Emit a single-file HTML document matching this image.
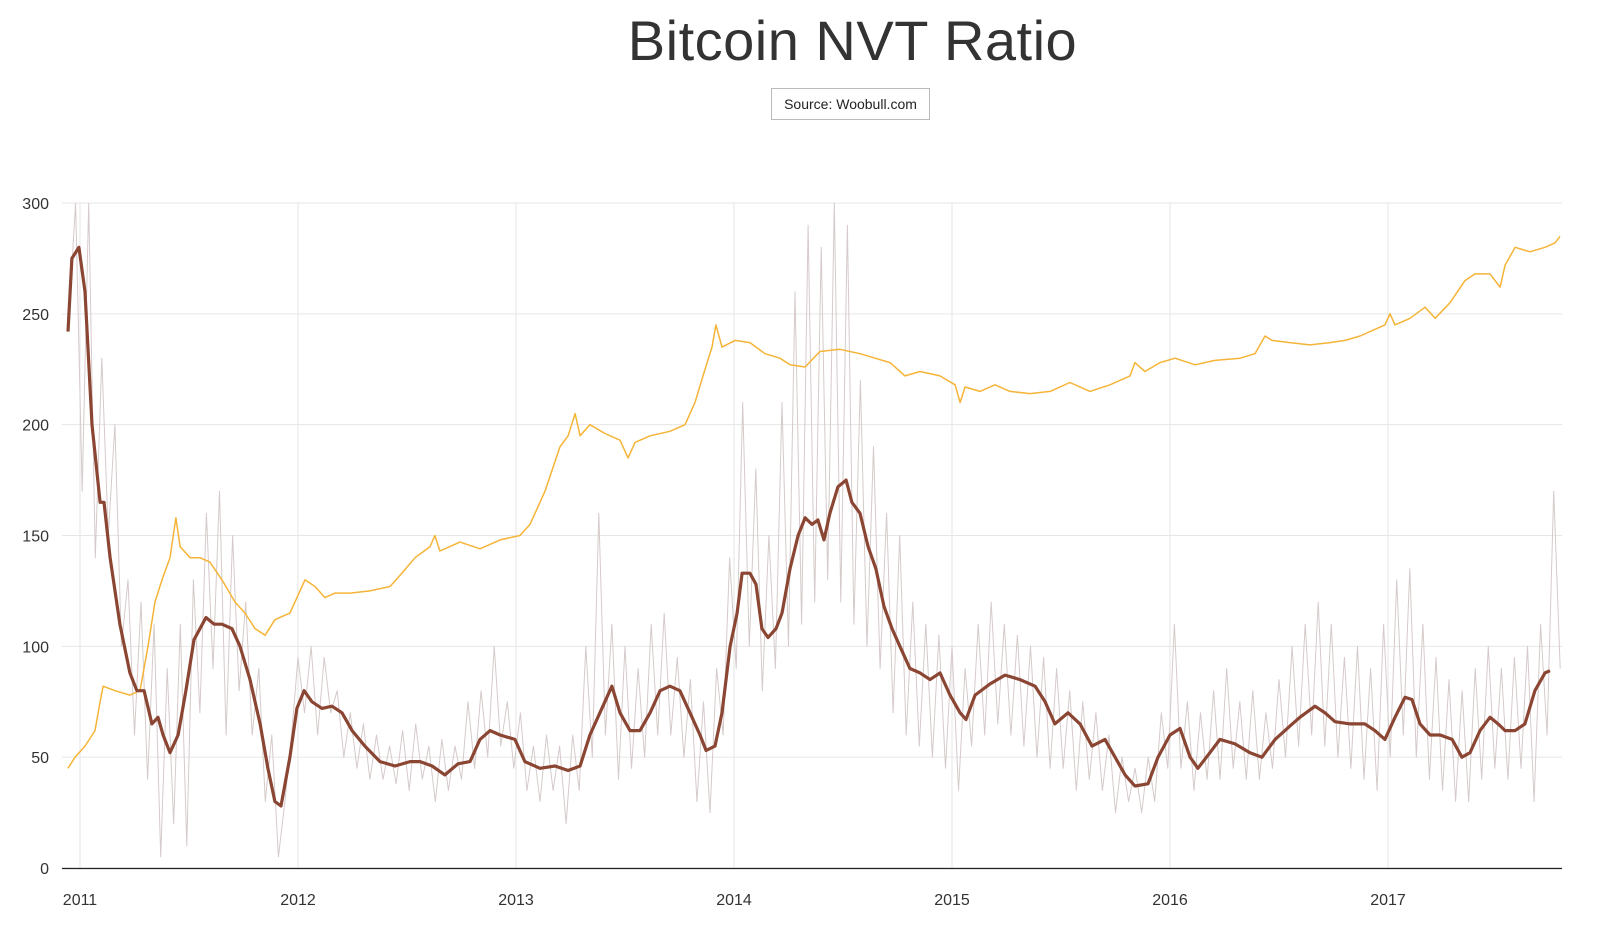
<!DOCTYPE html>
<html><head><meta charset="utf-8">
<style>
html,body{margin:0;padding:0;background:#fff;width:1600px;height:935px;overflow:hidden;font-family:"Liberation Sans",sans-serif;}
#title{position:absolute;left:0;width:1705px;top:8px;text-align:center;font-size:56px;font-weight:300;color:#333;letter-spacing:0.5px;}
#source{position:absolute;left:771px;top:88px;width:159px;height:32px;border:1px solid #bbb;box-sizing:border-box;font-size:14px;line-height:30px;text-align:center;color:#222;}
svg{position:absolute;left:0;top:0;}
</style></head><body>
<div id="title">Bitcoin NVT Ratio</div>
<div id="source">Source: Woobull.com</div>
<svg id="chart" width="1600" height="935"></svg>
<script>
const yTicks=[0,50,100,150,200,250,300];
const xTickYears=[2011,2012,2013,2014,2015,2016,2017];
const nvtMaDates=[2010.945,2010.963,2010.995,2011.023,2011.055,2011.092,2011.110,2011.138,2011.183,2011.229,2011.261,2011.294,2011.330,2011.358,2011.381,2011.413,2011.450,2011.486,2011.523,2011.578,2011.615,2011.651,2011.697,2011.734,2011.780,2011.826,2011.862,2011.894,2011.922,2011.963,2011.995,2012.028,2012.064,2012.110,2012.156,2012.202,2012.248,2012.307,2012.376,2012.445,2012.514,2012.560,2012.615,2012.674,2012.734,2012.789,2012.835,2012.881,2012.927,2012.995,2013.041,2013.110,2013.179,2013.239,2013.294,2013.339,2013.385,2013.440,2013.477,2013.523,2013.569,2013.615,2013.661,2013.706,2013.752,2013.798,2013.844,2013.872,2013.913,2013.945,2013.982,2014.014,2014.037,2014.073,2014.101,2014.128,2014.156,2014.193,2014.220,2014.257,2014.294,2014.326,2014.358,2014.385,2014.413,2014.440,2014.477,2014.514,2014.541,2014.578,2014.615,2014.651,2014.688,2014.725,2014.761,2014.807,2014.853,2014.899,2014.945,2014.991,2015.037,2015.064,2015.106,2015.174,2015.243,2015.312,2015.381,2015.427,2015.472,2015.532,2015.587,2015.642,2015.702,2015.748,2015.794,2015.839,2015.899,2015.945,2016.000,2016.046,2016.092,2016.128,2016.183,2016.229,2016.298,2016.367,2016.422,2016.482,2016.550,2016.596,2016.665,2016.711,2016.757,2016.826,2016.894,2016.940,2016.986,2017.032,2017.078,2017.110,2017.147,2017.193,2017.239,2017.294,2017.339,2017.376,2017.422,2017.468,2017.505,2017.537,2017.583,2017.628,2017.674,2017.720,2017.743];
const nvtMaValues=[242,275,280,260,200,165,165,140,110,88,80,80,65,68,60,52,60,80,103,113,110,110,108,100,85,65,45,30,28,50,72,80,75,72,73,70,62,55,48,46,48,48,46,42,47,48,58,62,60,58,48,45,46,44,46,60,70,82,70,62,62,70,80,82,80,70,60,53,55,70,100,115,133,133,128,108,104,108,115,135,150,158,155,157,148,160,172,175,165,160,145,135,118,108,100,90,88,85,88,78,70,67,78,83,87,85,82,75,65,70,65,55,58,50,42,37,38,50,60,63,50,45,52,58,56,52,50,58,64,68,73,70,66,65,65,62,58,68,77,76,65,60,60,58,50,52,62,68,65,62,62,65,80,88,89];
const priceDates=[2010.945,2010.977,2011.023,2011.069,2011.092,2011.106,2011.161,2011.229,2011.275,2011.312,2011.344,2011.376,2011.413,2011.440,2011.459,2011.505,2011.550,2011.596,2011.651,2011.711,2011.757,2011.803,2011.849,2011.894,2011.963,2012.009,2012.032,2012.078,2012.124,2012.170,2012.239,2012.330,2012.422,2012.468,2012.537,2012.606,2012.628,2012.651,2012.743,2012.835,2012.927,2013.018,2013.064,2013.133,2013.202,2013.239,2013.271,2013.294,2013.339,2013.408,2013.477,2013.514,2013.546,2013.615,2013.706,2013.775,2013.821,2013.867,2013.899,2013.917,2013.945,2014.005,2014.073,2014.142,2014.211,2014.257,2014.326,2014.394,2014.486,2014.578,2014.647,2014.716,2014.784,2014.853,2014.945,2015.014,2015.037,2015.060,2015.128,2015.197,2015.266,2015.358,2015.450,2015.541,2015.633,2015.725,2015.817,2015.839,2015.885,2015.954,2016.023,2016.115,2016.206,2016.321,2016.390,2016.436,2016.468,2016.550,2016.642,2016.734,2016.803,2016.872,2016.986,2017.009,2017.032,2017.101,2017.170,2017.216,2017.284,2017.353,2017.399,2017.468,2017.514,2017.537,2017.583,2017.651,2017.720,2017.766,2017.789];
const priceValues=[45,50,55,62,75,82,80,78,80,100,120,130,140,158,145,140,140,138,130,120,115,108,105,112,115,125,130,127,122,124,124,125,127,132,140,145,150,143,147,144,148,150,155,170,190,195,205,195,200,196,193,185,192,195,197,200,210,225,235,245,235,238,237,232,230,227,226,233,234,232,230,228,222,224,222,218,210,217,215,218,215,214,215,219,215,218,222,228,224,228,230,227,229,230,232,240,238,237,236,237,238,240,245,250,245,248,253,248,255,265,268,268,262,272,280,278,280,282,285];
const dailyStart=2010.95, dailyStep=0.03;
const dailyValues=[250,300,170,300,140,230,150,200,100,130,60,120,40,110,5,90,20,110,10,130,70,160,90,170,60,150,80,120,60,90,30,60,5,30,60,95,70,100,60,95,70,80,50,70,45,65,40,60,40,55,38,62,35,65,40,55,30,58,35,55,40,75,45,80,50,100,55,75,45,70,35,55,30,60,35,55,20,60,35,100,50,160,60,110,40,100,45,90,50,110,60,115,60,95,50,85,30,75,25,90,60,140,90,210,100,180,80,150,90,210,100,260,110,290,120,280,130,300,120,290,110,220,100,190,90,160,70,150,60,120,55,110,50,105,45,100,35,90,55,110,60,120,65,110,60,105,55,100,50,95,45,90,45,80,35,75,40,70,35,60,25,50,30,45,25,50,30,70,45,110,45,75,35,70,40,80,40,90,45,75,40,80,40,70,45,85,50,100,55,110,60,120,55,110,50,95,45,100,40,90,35,110,50,130,60,135,50,110,40,95,35,85,30,80,30,90,40,100,45,90,40,95,45,100,30,110,60,170,90];

const svg=document.getElementById('chart');
const NS='http://www.w3.org/2000/svg';
const X0=80,PXY=218,Y0=868,PXV=665/300;
function xs(t){return X0+(t-2011)*PXY;}
function ys(v){return Y0-v*PXV;}
function mk(tag,attrs){const e=document.createElementNS(NS,tag);for(const k in attrs)e.setAttribute(k,attrs[k]);svg.appendChild(e);return e;}
const clip=document.createElementNS(NS,'clipPath');clip.setAttribute('id','pc');
const cr=document.createElementNS(NS,'rect');cr.setAttribute('x',60);cr.setAttribute('y',203);cr.setAttribute('width',1502);cr.setAttribute('height',666);
clip.appendChild(cr);svg.appendChild(clip);

yTicks.forEach(v=>{
  const l=mk('line',{x1:62,x2:1562,y1:ys(v),y2:ys(v),stroke:'#e6e6e6','stroke-width':1});
  
  
  const t=mk('text',{x:49,y:ys(v)+6,'text-anchor':'end','font-size':16,fill:'#333','font-family':'Liberation Sans, sans-serif'});
  t.textContent=v;
  
  
});
xTickYears.forEach(yr=>{
  const l=mk('line',{x1:xs(yr),x2:xs(yr),y1:203,y2:Y0,stroke:'#e6e6e6','stroke-width':1});
  
  
  const t=mk('text',{x:xs(yr),y:905,'text-anchor':'middle','font-size':16,fill:'#333','font-family':'Liberation Sans, sans-serif'});
  t.textContent=yr;
  
  
});
function path(dates,vals,attrs,name){
  let d='';
  vals.forEach((v,i)=>{d+=(i?'L':'M')+xs(dates[i]).toFixed(1)+','+ys(v).toFixed(1);});
  const p=mk('path',Object.assign({d:d,fill:'none','clip-path':'url(#pc)','stroke-linejoin':'round'},attrs));
  
  
}
const dailyDates=dailyValues.map((v,i)=>dailyStart+i*dailyStep);
path(dailyDates,dailyValues,{stroke:'#d6caca','stroke-width':1},'nvt-daily-line');
path(priceDates,priceValues,{stroke:'#f5b437','stroke-width':1.5},'price-line');
path(nvtMaDates,nvtMaValues,{stroke:'#8b4533','stroke-width':3.2},'nvt-ma-line');
const ax=mk('line',{x1:62,x2:1562,y1:Y0+0.5,y2:Y0+0.5,stroke:'#222','stroke-width':1.3});


</script>
</body></html>
